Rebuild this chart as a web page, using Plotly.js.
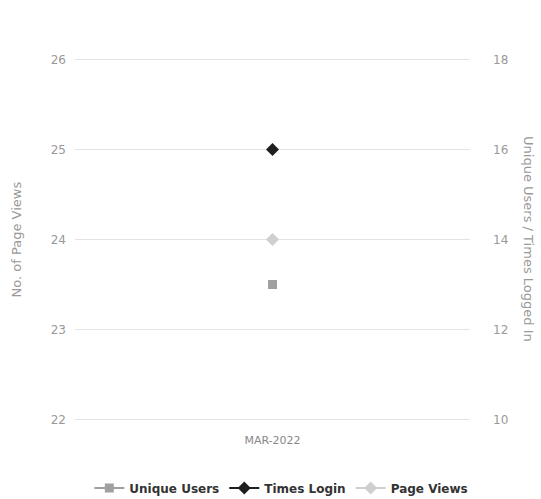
<!DOCTYPE html>
<html><head><meta charset="utf-8">
<script src="https://cdn.plot.ly/plotly-3.0.1.min.js"></script>
<style>html,body{margin:0;padding:0;background:#fff}#chart{width:541px;height:499px}</style>
</head><body><div id="chart"></div>
<script>
const categories = ["MAR-2022"];
const uniqueUsers = [13];
const timesLogin = [16];
const pageViews = [24];
const leftTicks = [22, 23, 24, 25, 26];
const rightTicks = [10, 12, 14, 16, 18];

const font = "DejaVu Sans, Verdana, sans-serif";
const traces = [
  {name: "Unique Users", x: categories, y: uniqueUsers, yaxis: "y2", type: "scatter", mode: "lines+markers",
   marker: {symbol: "square", size: 9, color: "#a0a0a0"}, line: {color: "#a0a0a0", width: 2}},
  {name: "Times Login", x: categories, y: timesLogin, yaxis: "y2", type: "scatter", mode: "lines+markers",
   marker: {symbol: "diamond", size: 10, color: "#1e1e1e"}, line: {color: "#1e1e1e", width: 2}},
  {name: "Page Views", x: categories, y: pageViews, yaxis: "y", type: "scatter", mode: "lines+markers",
   marker: {symbol: "diamond", size: 10, color: "#cfcfcf"}, line: {color: "#cfcfcf", width: 2}}
];
const layout = {
  width: 541, height: 499,
  margin: {l: 75, r: 71, t: 55, b: 75},
  paper_bgcolor: "#fff", plot_bgcolor: "#fff",
  font: {family: font, color: "#888", size: 12},
  showlegend: true,
  xaxis: {type: "category", range: [-0.5, 0.5], showgrid: false, zeroline: false, showline: false,
          tickfont: {size: 11, color: "#888"}, ticks: "", ticklabelstandoff: 8},
  yaxis: {range: [21.95, 26.05], tickvals: leftTicks, showgrid: true, gridcolor: "#e3e3e3", gridwidth: 1,
          zeroline: false, showline: false, tickfont: {size: 12, color: "#999"}, ticklabelstandoff: 8},
  yaxis2: {range: [9.9, 18.1], tickvals: rightTicks, overlaying: "y", side: "right", showgrid: false,
           zeroline: false, showline: false, tickfont: {size: 12, color: "#999"}, ticklabelstandoff: 22},
  legend: {orientation: "h", x: 0.52, xanchor: "center", xref: "container", y: 0.022, yanchor: "middle", yref: "container",
           font: {size: 12, color: "#333", family: font, weight: "bold"}, itemwidth: 30, tracegroupgap: 0},
  annotations: [
    {text: "No. of Page Views", xref: "paper", yref: "paper", x: -0.147, y: 0.5, showarrow: false, textangle: -90,
     font: {size: 13, color: "#999"}, xanchor: "center", yanchor: "middle"},
    {text: "Unique Users / Times Logged In", xref: "paper", yref: "paper", x: 1.148, y: 0.5, showarrow: false, textangle: 90,
     font: {size: 13, color: "#999"}, xanchor: "center", yanchor: "middle"},
    {text: "CSV&nbsp;&nbsp;JPEG", xref: "container", yref: "container", x: 1, xanchor: "right", y: 1, yanchor: "top", yshift: -8,
     showarrow: false, font: {size: 12, color: "#666"}}
  ]
};
Plotly.newPlot("chart", traces, layout, {displayModeBar: false});
</script></body></html>
